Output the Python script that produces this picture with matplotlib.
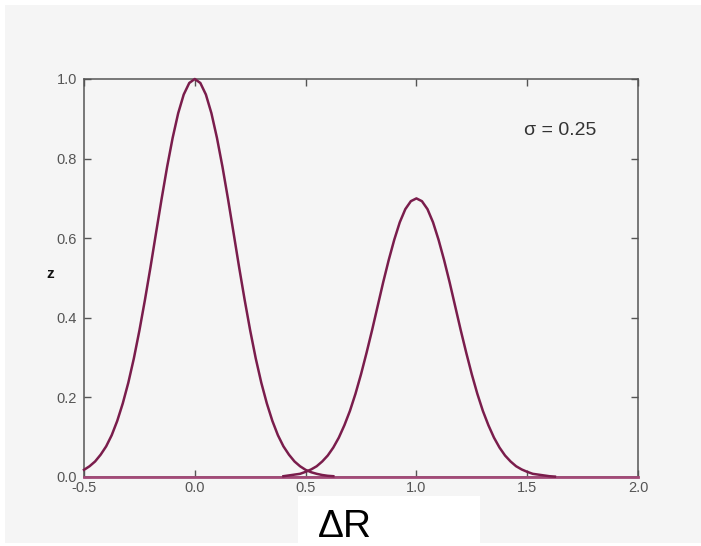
import matplotlib
matplotlib.use("Agg")
import matplotlib.pyplot as plt
from matplotlib.patches import Rectangle

plt.rcParams['font.family'] = ['Liberation Sans', 'DejaVu Sans']

# Data
x1 = [-0.500, -0.475, -0.450, -0.425, -0.400, -0.375, -0.350, -0.325, -0.300, -0.275,
      -0.250, -0.225, -0.200, -0.175, -0.150, -0.125, -0.100, -0.075, -0.050, -0.025,
      0.000, 0.025, 0.050, 0.075, 0.100, 0.125, 0.150, 0.175, 0.200, 0.225,
      0.250, 0.275, 0.300, 0.325, 0.350, 0.375, 0.400, 0.425, 0.450, 0.475,
      0.500, 0.525, 0.550, 0.575, 0.600, 0.625]
z1 = [0.018, 0.027, 0.039, 0.056, 0.077, 0.105, 0.141, 0.185, 0.237, 0.298,
      0.368, 0.445, 0.527, 0.613, 0.698, 0.779, 0.852, 0.914, 0.961, 0.990,
      1.000, 0.990, 0.961, 0.914, 0.852, 0.779, 0.698, 0.613, 0.527, 0.445,
      0.368, 0.298, 0.237, 0.185, 0.141, 0.105, 0.077, 0.056, 0.039, 0.027,
      0.018, 0.012, 0.008, 0.005, 0.003, 0.002]

x2 = [0.400, 0.425, 0.450, 0.475, 0.500, 0.525, 0.550, 0.575, 0.600, 0.625,
      0.650, 0.675, 0.700, 0.725, 0.750, 0.775, 0.800, 0.825, 0.850, 0.875,
      0.900, 0.925, 0.950, 0.975, 1.000, 1.025, 1.050, 1.075, 1.100, 1.125,
      1.150, 1.175, 1.200, 1.225, 1.250, 1.275, 1.300, 1.325, 1.350, 1.375,
      1.400, 1.425, 1.450, 1.475, 1.500, 1.525, 1.550, 1.575, 1.600, 1.625]
z2 = [0.002, 0.004, 0.006, 0.008, 0.013, 0.019, 0.027, 0.039, 0.054, 0.074,
      0.099, 0.130, 0.166, 0.209, 0.258, 0.312, 0.369, 0.429, 0.489, 0.545,
      0.596, 0.640, 0.673, 0.693, 0.700, 0.693, 0.673, 0.640, 0.596, 0.545,
      0.489, 0.429, 0.369, 0.312, 0.258, 0.209, 0.166, 0.130, 0.099, 0.074,
      0.054, 0.039, 0.027, 0.019, 0.013, 0.008, 0.006, 0.004, 0.002, 0.001]

x_base = [-0.5, 2.0]
z_base = [0.0, 0.0]

xticks = [-0.5, 0.0, 0.5, 1.0, 1.5, 2.0]
xticklabels = ["-0.5", "0.0", "0.5", "1.0", "1.5", "2.0"]
yticks = [0.0, 0.2, 0.4, 0.6, 0.8, 1.0]
yticklabels = ["0.0", "0.2", "0.4", "0.6", "0.8", "1.0"]

W, H = 701, 546
fig = plt.figure(figsize=(W / 100, H / 100), dpi=100)
fig.patch.set_facecolor("white")
bg = "#f5f5f5"
fig.patches.append(Rectangle((5 / W, 3 / H), 1 - 5 / W, 1 - 8 / H,
                             transform=fig.transFigure, facecolor=bg,
                             edgecolor="none", zorder=-10))

ax = fig.add_axes([84 / W, 1 - 477 / H, (638 - 84) / W, (477 - 79) / H])
ax.set_zorder(1)
ax.set_facecolor(bg)

curve_color = "#7a1d4c"
ax.plot(x_base, z_base, color="#a34a78", lw=2.0, zorder=3, clip_on=False)
ax.plot(x1, z1, color=curve_color, lw=1.8, zorder=4, clip_on=False)
ax.plot(x2, z2, color=curve_color, lw=1.8, zorder=4, clip_on=False)

ax.set_xlim(-0.5, 2.0)
ax.set_ylim(0.0, 1.0)
ax.set_xticks(xticks)
ax.set_xticklabels(xticklabels)
ax.set_yticks(yticks)
ax.set_yticklabels(yticklabels)

for s in ax.spines.values():
    s.set_color("#555555")
    s.set_linewidth(1.1)

ax.tick_params(axis="both", direction="in", length=5, width=1.0, color="#555555",
               labelsize=10.5, labelcolor="#555555",
               top=True, right=True, labeltop=False, labelright=False)
ax.tick_params(axis="x", pad=3)
ax.tick_params(axis="y", pad=5)

ax.text(0.86, 0.87, "σ = 0.25", transform=ax.transAxes, fontsize=14,
        color="#333333", ha="center", va="center")

fig.text(50 / W, 1 - 274 / H, "z", fontsize=11, fontweight="bold",
         color="#111111", ha="center", va="center")

fig.patches.append(Rectangle((298 / W, 0), (480 - 298) / W, (546 - 496) / H,
                             transform=fig.transFigure, facecolor="white",
                             edgecolor="none", zorder=2))
fig.text(318 / W, 1 - 537 / H, "ΔR", fontsize=28, color="black",
         ha="left", va="baseline", zorder=3)

fig.savefig("out.png", dpi=100, facecolor=fig.get_facecolor())
